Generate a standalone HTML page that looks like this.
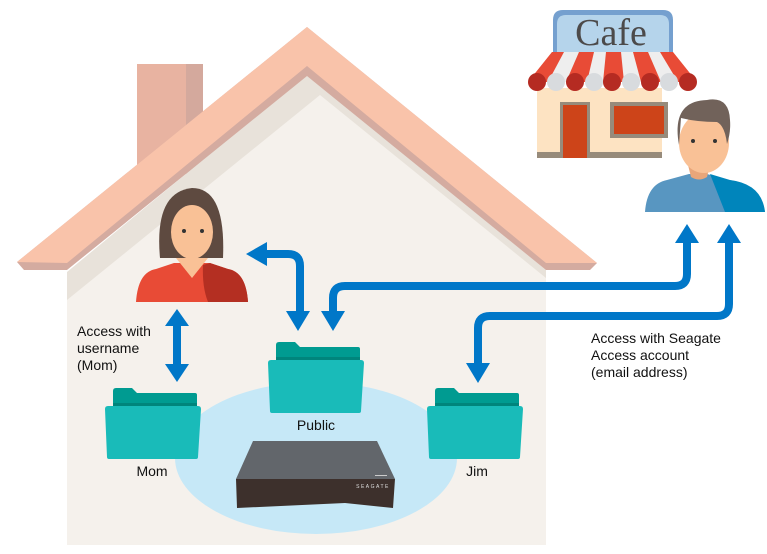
<!DOCTYPE html>
<html><head><meta charset="utf-8"><style>
html,body{margin:0;padding:0;background:#fff;width:767px;height:554px;overflow:hidden}
svg{display:block}
text{font-family:"Liberation Sans",Arial,sans-serif;fill:#111}
</style></head><body>
<svg width="767" height="554" viewBox="0 0 767 554" xmlns="http://www.w3.org/2000/svg">
<!-- chimney -->
<rect x="137" y="64" width="50" height="110" fill="#e8b3a1"/>
<rect x="186" y="64" width="17" height="110" fill="#d4a99d"/>
<!-- wall -->
<polygon points="67,272 307,74 546,270 546,545 67,545" fill="#e8e2da"/>
<polygon points="67,300 320,95 546,278 546,545 67,545" fill="#f5f1ec"/>
<!-- roof -->
<polygon points="17,262 307,27 597,263 590,270 546,270 307,76 67,270 24,270" fill="#d4aba0"/>
<polygon points="17,262 307,27 597,263 546,263 307,66 67,263" fill="#f9c3aa"/>
<!-- ellipse -->
<ellipse cx="316" cy="458" rx="141" ry="76" fill="#c6e8f7"/>
<!-- folders -->
<g id="f">
<path d="M113,391 q0,-3 3,-3 h16 l5,5 h58 q2,0 2,2 v14 h-84z" fill="#009b91"/>
<rect x="113" y="403" width="84" height="5" fill="#00857c"/>
<path d="M105,409 q0,-3 3,-3 h90 q3,0 3,3 l-3,48 q0,2 -2,2 h-87 q-2,0 -2,-2z" fill="#19bbb9"/>
</g>
<use href="#f" transform="translate(163,-46)"/>
<use href="#f" transform="translate(322,0)"/>
<text x="152" y="476" font-size="14" text-anchor="middle">Mom</text>
<text x="316" y="430" font-size="14" text-anchor="middle">Public</text>
<text x="477" y="476" font-size="14" text-anchor="middle">Jim</text>
<!-- NAS -->
<polygon points="253,441 377,441 395,479 236,479" fill="#62666b"/>
<polygon points="236,479 395,479 393,508 345,503 237,508" fill="#3d302c"/>
<rect x="375" y="475" width="12" height="1" fill="#ccc"/>
<text x="373" y="488" font-size="5" fill="#ddd" style="fill:#ddd" letter-spacing="1.5" text-anchor="middle">SEAGATE</text>
<!-- woman -->
<path d="M136,302 q2,-30 20,-33 l18,-6 h36 l18,6 q18,3 20,33z" fill="#e84b36"/>
<path d="M203,265 l7,-2 l18,6 q18,3 20,33 h-40 q-6,-15 -5,-37z" fill="#b42f22"/>
<path d="M176,258 h32 l-16,20z" fill="#f9c196"/>
<path d="M160,258 q-6,-66 32,-70 q34,0 31,70z" fill="#5e4a40"/>
<ellipse cx="192" cy="232" rx="21" ry="27" fill="#f9c196"/>
<path d="M172,222 q4,-22 22,-22 q16,4 22,20 q0,-30 -24,-30 q-24,2 -20,32z" fill="#5e4a40"/>
<circle cx="184" cy="231" r="2" fill="#333"/><circle cx="202" cy="231" r="2" fill="#333"/>
<!-- cafe -->
<rect x="537" y="88" width="125" height="70" fill="#fde3c2"/>
<rect x="537" y="152" width="125" height="6" fill="#978b7b"/>
<rect x="560" y="102" width="30" height="56" fill="#978b7b"/><rect x="563" y="105" width="24" height="53" fill="#cd4419"/>
<rect x="610" y="102" width="58" height="36" fill="#978b7b"/><rect x="614" y="106" width="50" height="28" fill="#cd4419"/>
<path d="M553,52 v-32 q0,-10 10,-10 h100 q10,0 10,10 v32z" fill="#75a0cf"/>
<path d="M557,52 v-28 q0,-9 9,-9 h94 q9,0 9,9 v28z" fill="#b5d4eb"/>
<text x="611" y="45" font-size="38" text-anchor="middle" style="font-family:'Liberation Serif',serif;fill:#4c4a4a">Cafe</text>
<polygon points="552,52 673,52 697,82 528,82" fill="#eee"/>
<g fill="#e84b36">
<polygon points="552,52 564,52 548,82 528,82"/><polygon points="579,52 594,52 587,82 566,82"/>
<polygon points="606,52 621,52 624,82 603,82"/><polygon points="633,52 648,52 661,82 641,82"/>
<polygon points="660,52 673,52 697,82 678,82"/>
</g>
<g>
<circle cx="537" cy="82" r="9" fill="#b52b22"/><circle cx="556" cy="82" r="9" fill="#d8dbde"/>
<circle cx="575" cy="82" r="9" fill="#b52b22"/><circle cx="594" cy="82" r="9" fill="#d8dbde"/>
<circle cx="612" cy="82" r="9" fill="#b52b22"/><circle cx="631" cy="82" r="9" fill="#d8dbde"/>
<circle cx="650" cy="82" r="9" fill="#b52b22"/><circle cx="669" cy="82" r="9" fill="#d8dbde"/>
<circle cx="688" cy="82" r="9" fill="#b52b22"/>
</g>
<!-- man -->
<path d="M645,212 q2,-28 22,-32 l22,-6 h18 l22,6 q32,4 36,32z" fill="#5896c1"/>
<path d="M710,174 l20,6 q32,4 35,32 h-40z" fill="#0085bb"/>
<path d="M688,165 h22 l-3,12 q-8,5 -16,0z" fill="#e9a67a"/>
<ellipse cx="704" cy="143" rx="25" ry="30" fill="#f9c196"/>
<path d="M679,145 q-8,-44 28,-45 q22,-4 23,20 q1,12 -3,24 q-2,-18 -10,-22 q-20,0 -36,-4z" fill="#71625a"/>
<circle cx="693" cy="141" r="2" fill="#333"/><circle cx="715" cy="141" r="2" fill="#333"/>
<!-- arrows -->
<g fill="none" stroke="#0077c8" stroke-width="8">
<path d="M177,325 V366"/>
<path d="M265,254 H288 q12,0 12,12 V314"/>
<path d="M333,314 V298 q0,-12 12,-12 H675 q12,0 12,-12 V240"/>
<path d="M478,366 V328 q0,-12 12,-12 H717 q12,0 12,-12 V240"/>
</g>
<g fill="#0077c8">
<polygon points="177,309 165,326 189,326"/><polygon points="177,382 165,364 189,364"/>
<polygon points="246,254 267,242 267,266"/>
<polygon points="298,331 286,311 310,311"/>
<polygon points="333,331 321,311 345,311"/>
<polygon points="687,224 675,243 699,243"/>
<polygon points="729,224 717,243 741,243"/>
<polygon points="478,383 466,363 490,363"/>
</g>
<g font-size="14">
<text x="77" y="336">Access with</text><text x="77" y="353">username</text><text x="77" y="370">(Mom)</text>
<text x="591" y="343">Access with Seagate</text><text x="591" y="360">Access account</text><text x="591" y="377">(email address)</text>
</g>
</svg>
</body></html>
